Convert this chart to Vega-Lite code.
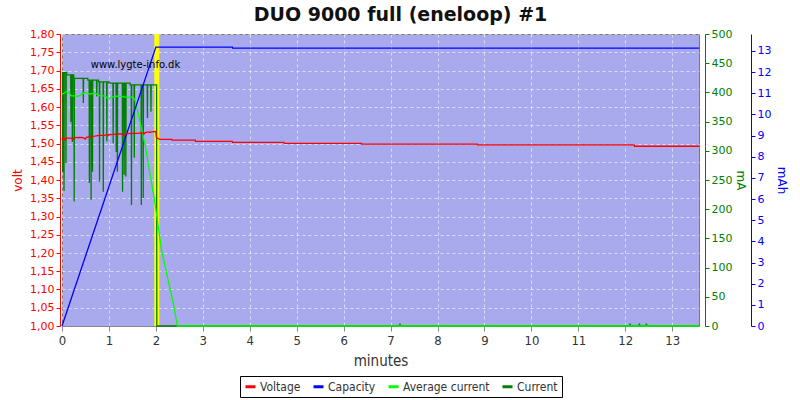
{
  "$schema": "https://vega.github.io/schema/vega-lite/v6.json",
  "width": 637,
  "height": 292,
  "autosize": {"type": "none"},
  "padding": {"left": 62, "top": 34, "right": 101, "bottom": 74},
  "background": "white",
  "title": {"text": "DUO 9000 full (eneloop) #1", "font": "DejaVu Sans", "fontSize": 19, "fontWeight": "bold", "color": "#111111", "anchor": "middle", "frame": "group", "dx": 20, "offset": 3},
  "config": {
    "view": {"fill": "#a9a9ee", "stroke": "#777777", "strokeWidth": 1},
    "font": "DejaVu Sans",
    "axis": {"labelFont": "DejaVu Sans", "titleFont": "DejaVu Sans", "titleFontWeight": "normal"}
  },
  "datasets": {
    "voltage": [
      {"t": 0, "v": 1.514}, {"t": 0.03, "v": 1.509}, {"t": 0.05, "v": 1.514}, {"t": 0.07, "v": 1.51}, {"t": 0.09, "v": 1.515},
      {"t": 0.2, "v": 1.515}, {"t": 0.23, "v": 1.51}, {"t": 0.26, "v": 1.516}, {"t": 0.4, "v": 1.517}, {"t": 0.45, "v": 1.516},
      {"t": 0.5, "v": 1.512}, {"t": 0.52, "v": 1.517}, {"t": 0.6, "v": 1.519}, {"t": 0.7, "v": 1.52}, {"t": 0.8, "v": 1.522},
      {"t": 0.9, "v": 1.522}, {"t": 0.95, "v": 1.524}, {"t": 0.97, "v": 1.521}, {"t": 0.99, "v": 1.524}, {"t": 1.1, "v": 1.525},
      {"t": 1.2, "v": 1.526}, {"t": 1.3, "v": 1.526}, {"t": 1.33, "v": 1.522}, {"t": 1.35, "v": 1.527}, {"t": 1.5, "v": 1.528},
      {"t": 1.6, "v": 1.528}, {"t": 1.7, "v": 1.529}, {"t": 1.75, "v": 1.526}, {"t": 1.77, "v": 1.53}, {"t": 1.85, "v": 1.532},
      {"t": 1.88, "v": 1.53}, {"t": 1.9, "v": 1.532}, {"t": 2.0, "v": 1.533}, {"t": 2.01, "v": 1.516}, {"t": 2.08, "v": 1.5115},
      {"t": 2.34, "v": 1.5115}, {"t": 2.345, "v": 1.509}, {"t": 2.84, "v": 1.509}, {"t": 2.845, "v": 1.506}, {"t": 3.63, "v": 1.506},
      {"t": 3.635, "v": 1.5033}, {"t": 4.73, "v": 1.5033}, {"t": 4.735, "v": 1.5005}, {"t": 6.38, "v": 1.5005}, {"t": 6.385, "v": 1.4985},
      {"t": 8.85, "v": 1.4985}, {"t": 8.855, "v": 1.496}, {"t": 12.19, "v": 1.496}, {"t": 12.195, "v": 1.4925}, {"t": 13.57, "v": 1.4925}
    ],
    "capacity": [
      {"t": 0, "mah": 0}, {"t": 2.0, "mah": 13.18}, {"t": 3.63, "mah": 13.18}, {"t": 3.635, "mah": 13.13}, {"t": 13.57, "mah": 13.13}
    ],
    "avg": [
      {"t": 0, "ma": 397}, {"t": 0.05, "ma": 399}, {"t": 0.1, "ma": 402}, {"t": 0.15, "ma": 399}, {"t": 0.2, "ma": 394},
      {"t": 0.28, "ma": 394}, {"t": 0.34, "ma": 393}, {"t": 0.42, "ma": 397}, {"t": 0.49, "ma": 400}, {"t": 0.6, "ma": 397},
      {"t": 0.7, "ma": 399}, {"t": 0.81, "ma": 394}, {"t": 0.92, "ma": 394}, {"t": 0.98, "ma": 389}, {"t": 1.065, "ma": 392},
      {"t": 1.19, "ma": 394}, {"t": 1.34, "ma": 392}, {"t": 1.51, "ma": 392}, {"t": 1.56, "ma": 386}, {"t": 1.77, "ma": 310},
      {"t": 1.98, "ma": 211}, {"t": 2.12, "ma": 130}, {"t": 2.37, "ma": 39}, {"t": 2.46, "ma": 0}, {"t": 13.57, "ma": 0}
    ],
    "current": [
      {"t": 0, "ma": 434},
      {"t": 0.01, "ma": 434}, {"t": 0.015, "ma": 264}, {"t": 0.02, "ma": 434},
      {"t": 0.038, "ma": 434}, {"t": 0.043, "ma": 231}, {"t": 0.048, "ma": 434},
      {"t": 0.08, "ma": 434}, {"t": 0.085, "ma": 279}, {"t": 0.09, "ma": 434},
      {"t": 0.1, "ma": 434}, {"t": 0.101, "ma": 430},
      {"t": 0.185, "ma": 430}, {"t": 0.19, "ma": 349}, {"t": 0.195, "ma": 430},
      {"t": 0.215, "ma": 430}, {"t": 0.22, "ma": 315}, {"t": 0.225, "ma": 430},
      {"t": 0.25, "ma": 430}, {"t": 0.251, "ma": 424},
      {"t": 0.255, "ma": 424}, {"t": 0.26, "ma": 213}, {"t": 0.265, "ma": 424},
      {"t": 0.45, "ma": 424}, {"t": 0.455, "ma": 382}, {"t": 0.46, "ma": 424},
      {"t": 0.55, "ma": 424}, {"t": 0.551, "ma": 421},
      {"t": 0.578, "ma": 421}, {"t": 0.583, "ma": 245}, {"t": 0.588, "ma": 421},
      {"t": 0.615, "ma": 421}, {"t": 0.62, "ma": 216}, {"t": 0.625, "ma": 421},
      {"t": 0.645, "ma": 421}, {"t": 0.65, "ma": 264}, {"t": 0.655, "ma": 421},
      {"t": 0.735, "ma": 421}, {"t": 0.74, "ma": 393}, {"t": 0.745, "ma": 421},
      {"t": 0.78, "ma": 421}, {"t": 0.781, "ma": 418},
      {"t": 0.795, "ma": 418}, {"t": 0.8, "ma": 247}, {"t": 0.805, "ma": 418},
      {"t": 0.875, "ma": 418}, {"t": 0.88, "ma": 230}, {"t": 0.885, "ma": 418},
      {"t": 0.95, "ma": 418}, {"t": 0.955, "ma": 316}, {"t": 0.96, "ma": 418},
      {"t": 1.0, "ma": 418}, {"t": 1.001, "ma": 416},
      {"t": 1.085, "ma": 416}, {"t": 1.09, "ma": 313}, {"t": 1.095, "ma": 416},
      {"t": 1.15, "ma": 416}, {"t": 1.155, "ma": 298}, {"t": 1.16, "ma": 416},
      {"t": 1.175, "ma": 416}, {"t": 1.18, "ma": 264}, {"t": 1.185, "ma": 416},
      {"t": 1.285, "ma": 416}, {"t": 1.29, "ma": 230}, {"t": 1.295, "ma": 416},
      {"t": 1.32, "ma": 416}, {"t": 1.325, "ma": 259}, {"t": 1.33, "ma": 416},
      {"t": 1.355, "ma": 416}, {"t": 1.36, "ma": 256}, {"t": 1.365, "ma": 416},
      {"t": 1.45, "ma": 416}, {"t": 1.451, "ma": 413},
      {"t": 1.475, "ma": 413}, {"t": 1.48, "ma": 207}, {"t": 1.485, "ma": 413},
      {"t": 1.535, "ma": 413}, {"t": 1.54, "ma": 288}, {"t": 1.545, "ma": 413},
      {"t": 1.685, "ma": 413}, {"t": 1.69, "ma": 207}, {"t": 1.695, "ma": 413},
      {"t": 1.725, "ma": 413}, {"t": 1.73, "ma": 219}, {"t": 1.735, "ma": 413},
      {"t": 1.815, "ma": 413}, {"t": 1.82, "ma": 356}, {"t": 1.825, "ma": 413},
      {"t": 1.89, "ma": 413}, {"t": 1.895, "ma": 367}, {"t": 1.9, "ma": 413},
      {"t": 2.015, "ma": 413}, {"t": 2.02, "ma": 0},
      {"t": 7.19, "ma": 0}, {"t": 7.2, "ma": 4}, {"t": 7.21, "ma": 0},
      {"t": 12.09, "ma": 0}, {"t": 12.1, "ma": 4}, {"t": 12.11, "ma": 0},
      {"t": 12.29, "ma": 0}, {"t": 12.3, "ma": 4}, {"t": 12.31, "ma": 0},
      {"t": 12.44, "ma": 0}, {"t": 12.45, "ma": 4}, {"t": 12.46, "ma": 0},
      {"t": 13.57, "ma": 0}
    ],
    "marks": [{"t": 2.02}],
    "watermark": [{"t": 1.565, "v": 1.715, "label": "www.lygte-info.dk"}]
  },
  "resolve": {"scale": {"y": "independent", "color": "shared"}, "axis": {"y": "independent"}},
  "layer": [
    {
      "data": {"name": "marks"},
      "mark": {"type": "rule", "color": "#ffff00", "strokeWidth": 5},
      "encoding": {
        "x": {"field": "t", "type": "quantitative", "scale": {"domain": [0, 13.57], "nice": false, "zero": false},
          "axis": {"values": [0,1,2,3,4,5,6,7,8,9,10,11,12,13], "title": "minutes", "titleFontSize": 15, "titleColor": "#333333", "titlePadding": 6,
            "titleFont": "DejaVu Sans Condensed, Liberation Sans Narrow, DejaVu Sans",
            "labelFont": "DejaVu Sans Condensed, Liberation Sans Narrow, DejaVu Sans",
            "labelColor": "#333333", "labelFontSize": 13, "labelPadding": 3, "labelFlush": false, "domainColor": "#888888", "tickColor": "#888888", "tickSize": 5,
            "grid": true, "gridColor": "#ffffff", "gridDash": [3, 3], "gridOpacity": 0.6}}
      }
    },
    {
      "data": {"name": "current"},
      "mark": {"type": "line", "strokeWidth": 1.3, "interpolate": "linear"},
      "encoding": {
        "x": {"field": "t", "type": "quantitative"},
        "y": {"field": "ma", "type": "quantitative", "scale": {"domain": [0, 500], "nice": false}, "axis": null},
        "color": {"datum": "Current", "type": "nominal"}
      }
    },
    {
      "data": {"name": "avg"},
      "mark": {"type": "line", "strokeWidth": 1.3},
      "encoding": {
        "x": {"field": "t", "type": "quantitative"},
        "y": {"field": "ma", "type": "quantitative", "scale": {"domain": [0, 500], "nice": false},
          "axis": {"orient": "right", "offset": 6, "title": "mA", "titleColor": "#008000", "titleFontSize": 12, "titlePadding": 2,
            "values": [0,50,100,150,200,250,300,350,400,450,500], "labelColor": "#008000", "labelFontSize": 11,
            "domainColor": "#008000", "tickColor": "#008000", "tickSize": 4, "grid": false}},
        "color": {"datum": "Average current", "type": "nominal"}
      }
    },
    {
      "data": {"name": "capacity"},
      "mark": {"type": "line", "strokeWidth": 1.3},
      "encoding": {
        "x": {"field": "t", "type": "quantitative"},
        "y": {"field": "mah", "type": "quantitative", "scale": {"domain": [0, 13.8], "nice": false},
          "axis": {"orient": "right", "offset": 52, "title": "mAh", "titleColor": "#0000ff", "titleFontSize": 12, "titlePadding": 4,
            "values": [0,1,2,3,4,5,6,7,8,9,10,11,12,13], "labelColor": "#0000ff", "labelFontSize": 11,
            "domainColor": "#0000ff", "tickColor": "#0000ff", "tickSize": 4, "grid": false}},
        "color": {"datum": "Capacity", "type": "nominal"}
      }
    },
    {
      "data": {"name": "voltage"},
      "mark": {"type": "line", "strokeWidth": 1.3},
      "encoding": {
        "x": {"field": "t", "type": "quantitative"},
        "y": {"field": "v", "type": "quantitative", "scale": {"domain": [1.0, 1.8], "nice": false, "zero": false},
          "axis": {"orient": "left", "offset": 2, "title": "volt", "titleColor": "#ff0000", "titleFontSize": 12, "titlePadding": 5,
            "values": [1.0,1.05,1.1,1.15,1.2,1.25,1.3,1.35,1.4,1.45,1.5,1.55,1.6,1.65,1.7,1.75,1.8],
            "labelExpr": "replace(format(datum.value, '.2f'), '.', ',')",
            "labelColor": "#ff0000", "labelFontSize": 11, "domainColor": "#ff0000", "tickColor": "#ff0000", "tickSize": 4,
            "grid": true, "gridColor": "#ffffff", "gridDash": [3, 3], "gridOpacity": 0.6}},
        "color": {"datum": "Voltage", "type": "nominal",
          "scale": {"domain": ["Voltage", "Capacity", "Average current", "Current"], "range": ["#ff0000", "#0000ff", "#00ff00", "#008000"]},
          "legend": {"title": null, "orient": "none", "legendX": 178, "legendY": 342, "direction": "horizontal", "columns": 4,
            "strokeColor": "#000000", "fillColor": "#ffffff", "padding": 4, "symbolType": "stroke", "symbolStrokeWidth": 3, "symbolSize": 100,
            "labelFont": "DejaVu Sans Condensed, Liberation Sans Narrow, DejaVu Sans",
            "labelFontSize": 12, "labelColor": "#333333", "columnPadding": 6, "labelOffset": 3}}
      }
    },
    {
      "data": {"name": "watermark"},
      "mark": {"type": "text", "fontSize": 10, "color": "#000000", "font": "DejaVu Sans"},
      "encoding": {
        "x": {"field": "t", "type": "quantitative"},
        "y": {"field": "v", "type": "quantitative", "scale": {"domain": [1.0, 1.8], "nice": false, "zero": false}, "axis": null},
        "text": {"field": "label"}
      }
    }
  ]
}
